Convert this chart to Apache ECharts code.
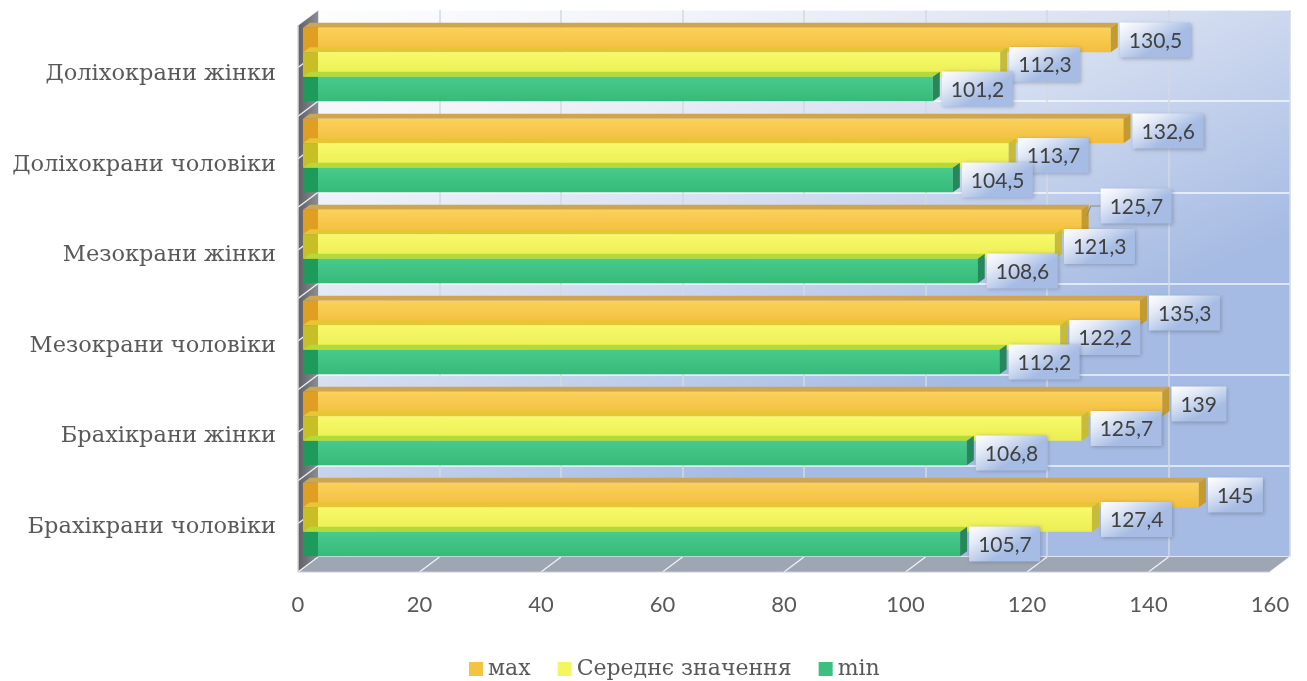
<!DOCTYPE html>
<html>
<head>
<meta charset="utf-8">
<script src="https://cdn.jsdelivr.net/npm/echarts@6/dist/echarts.min.js"></script>
<style>
  html, body { margin: 0; padding: 0; background: #ffffff; }
  #chart { width: 1307px; height: 681px; }
</style>
</head>
<body>
<div id="chart"></div>
<script>
// Craniometric groups, top to bottom
const categories = [
  'Доліхокрани жінки',
  'Доліхокрани чоловіки',
  'Мезокрани жінки',
  'Мезокрани чоловіки',
  'Брахікрани жінки',
  'Брахікрани чоловіки'
];
const seriesNames = ['мах', 'Середнє значення', 'min'];
const maxValues  = [130.5, 132.6, 125.7, 135.3, 139, 145];
const meanValues = [112.3, 113.7, 121.3, 122.2, 125.7, 127.4];
const minValues  = [101.2, 104.5, 108.6, 112.2, 106.8, 105.7];
const xTicks = [0, 20, 40, 60, 80, 100, 120, 140, 160];

// Styling of the pseudo-3D boxes (one entry per series)
const palette = [
  { front: ['#fbd15a', '#f2be3e'], top: '#cfa64e', side: '#c39b2e', cap: '#de9f22', legend: '#f5c342' },
  { front: ['#f7f96a', '#ebee52'], top: '#e6c634', side: '#c7bb3a', cap: '#c8bf26', legend: '#f3f65e' },
  { front: ['#48ca8c', '#36ba79'], top: '#b3da38', side: '#27875a', cap: '#1e9a5b', legend: '#3dbf80' }
];
const WALL_DEPTH = { dx: 20, dy: 15 };   // back wall -> front plane
const BAR_DEPTH = { dx: 7, dy: 5 };      // visible top / end faces of a bar
const CAP_WIDTH = 15;                    // bar ends sunk into the side wall
const LABEL_FONT = '21px Lato';
// value boxes moved off their bar, with a leader line: key "series-category"
const calloutOffsets = { '0-2': [10, -16] };

const fmt = v => String(v).replace('.', ',');
const measureCtx = document.createElement('canvas').getContext('2d');
measureCtx.font = LABEL_FONT;

function barRenderer(k) {
  const pal = palette[k];
  return function (params, api) {
    const v = api.value(0);
    const ci = api.value(1);
    const endPt = api.coord([v, ci]);
    const xEnd = endPt[0], yc = endPt[1];
    const x0 = api.coord([0, ci])[0];
    const band = api.size([0, 1])[1];
    const pitch = band * 0.269;
    const top = yc - 1.5 * pitch + k * pitch;
    const bot = top + pitch;
    const fx = BAR_DEPTH.dx, fy = BAR_DEPTH.dy;
    const mid = (top + bot) / 2;

    const children = [
      { type: 'rect', shape: { x: x0 - CAP_WIDTH, y: top, width: CAP_WIDTH, height: pitch },
        style: { fill: pal.cap } },
      { type: 'polygon', shape: { points: [[x0 - CAP_WIDTH, top], [xEnd, top], [xEnd + fx, top - fy], [x0 - CAP_WIDTH + fx, top - fy]] },
        style: { fill: pal.top } },
      { type: 'rect', shape: { x: x0, y: top, width: xEnd - x0, height: pitch },
        style: { fill: new echarts.graphic.LinearGradient(0, 0, 0, 1, [
          { offset: 0, color: pal.front[0] }, { offset: 1, color: pal.front[1] }]) } },
      { type: 'polygon', shape: { points: [[xEnd, top], [xEnd + fx, top - fy], [xEnd + fx, bot - fy], [xEnd, bot]] },
        style: { fill: pal.side } }
    ];

    // value box
    const text = fmt(v);
    const tw = measureCtx.measureText(text).width;
    const boxW = Math.round(tw + 18), boxH = 35;
    const off = calloutOffsets[k + '-' + ci] || [0, 0];
    const boxX = xEnd + fx + 2 + off[0];
    const boxY = mid - boxH / 2 + off[1];
    if (off[0] !== 0 || off[1] !== 0) {
      children.push({ type: 'polyline',
        shape: { points: [[xEnd + fx - 2, mid - 6], [boxX - 10, boxY + boxH / 2], [boxX, boxY + boxH / 2]] },
        style: { stroke: '#8c8c8c', lineWidth: 1.2, fill: null } });
    }
    children.push({ type: 'rect', shape: { x: boxX, y: boxY, width: boxW, height: boxH },
      style: { fill: new echarts.graphic.LinearGradient(0, 0, 0.3, 1, [
          { offset: 0, color: '#ffffff' }, { offset: 0.4, color: '#e4eaf6' }, { offset: 1, color: '#a6bce4' }]),
        shadowBlur: 4, shadowColor: 'rgba(60,70,90,0.35)', shadowOffsetX: 1, shadowOffsetY: 1 } });
    children.push({ type: 'text', x: boxX + 9, y: boxY + boxH / 2 + 1,
      style: { text: text, font: LABEL_FONT, fill: '#404040', verticalAlign: 'middle', align: 'left' } });

    return { type: 'group', children: children };
  };
}

function wallRenderer(params, api) {
  const cs = params.coordSys;
  const L = cs.x, T = cs.y, R = cs.x + cs.width, B = cs.y + cs.height;
  const dx = WALL_DEPTH.dx, dy = WALL_DEPTH.dy;
  const band = api.size([0, 1])[1];
  const children = [
    { type: 'polygon', shape: { points: [[L, T], [L, B], [L - dx, B + dy], [L - dx, T + dy]] },
      style: { fill: new echarts.graphic.LinearGradient(0, 0, 1, 0, [
        { offset: 0, color: '#5e6066' }, { offset: 1, color: '#8a8d94' }]) } },
    { type: 'polygon', shape: { points: [[L, B], [R, B], [R - dx, B + dy], [L - dx, B + dy]] },
      style: { fill: '#9ea6b3' } }
  ];
  xTicks.forEach(t => {
    const xt = api.coord([t, 0])[0];
    children.push({ type: 'line', shape: { x1: xt, y1: B, x2: xt - dx, y2: B + dy },
      style: { stroke: 'rgba(255,255,255,0.85)', lineWidth: 1.3 } });
  });
  categories.forEach((c, i) => {
    const yMid = api.coord([0, i])[1];
    [yMid - band / 2, yMid - 3].forEach(yb => {
      children.push({ type: 'line', shape: { x1: L, y1: yb, x2: L - dx, y2: yb + dy },
        style: { stroke: 'rgba(255,255,255,0.9)', lineWidth: 1.3 } });
    });
  });
  children.push({ type: 'line', shape: { x1: L - dx, y1: T + dy, x2: L - dx, y2: B + dy },
    style: { stroke: '#d8d8d8', lineWidth: 1.5 } });
  children.push({ type: 'line', shape: { x1: L - dx, y1: B + dy, x2: R - dx, y2: B + dy },
    style: { stroke: '#c9ced8', lineWidth: 1 } });
  return { type: 'group', children: children };
}

const valueSets = [maxValues, meanValues, minValues];
const chart = echarts.init(document.getElementById('chart'), null, { renderer: 'canvas' });

const option = {
  backgroundColor: '#ffffff',
  animation: false,
  grid: [
    { left: 318, top: 19, width: 972, height: 546 },                       // boxes
    { left: 298, top: 29, width: 972, height: 543 },                       // front-plane axis labels
    { left: 318, top: 10, width: 972, height: 547, show: true, borderWidth: 0,
      backgroundColor: new echarts.graphic.LinearGradient(0, 0, 0.25, 1, [
        { offset: 0, color: '#fcfdfe' }, { offset: 0.25, color: '#f2f4fa' },
        { offset: 0.55, color: '#d9e1f2' }, { offset: 1, color: '#a6bbe3' }]) }  // back wall
  ],
  xAxis: [
    { gridIndex: 0, type: 'value', min: 0, max: 160, interval: 20, show: false },
    { gridIndex: 1, type: 'value', min: 0, max: 160, interval: 20,
      axisLine: { show: false }, axisTick: { show: false }, splitLine: { show: false },
      axisLabel: { color: '#595959', fontFamily: 'Lato', fontSize: 22, margin: 22 } },
    { gridIndex: 2, type: 'value', min: 0, max: 160, interval: 20,
      axisLine: { show: false }, axisTick: { show: false }, axisLabel: { show: false },
      splitLine: { show: true, lineStyle: { color: '#d3d8e2', width: 1.5 } } }
  ],
  yAxis: [
    { gridIndex: 0, type: 'category', data: categories, inverse: true, show: false },
    { gridIndex: 1, type: 'category', data: categories, inverse: true,
      axisLine: { show: false }, axisTick: { show: false }, splitLine: { show: false },
      axisLabel: { color: '#595959', fontFamily: 'DejaVu Serif', fontSize: 22.5, margin: 22 } },
    { gridIndex: 2, type: 'category', data: categories, inverse: true,
      axisLine: { show: false }, axisTick: { show: false }, axisLabel: { show: false },
      splitLine: { show: true, lineStyle: { color: 'rgba(255,255,255,0.85)', width: 1.5 } } }
  ],
  legend: {
    data: seriesNames,
    left: 464, top: 653,
    icon: 'rect', itemWidth: 14, itemHeight: 14, itemGap: 27,
    textStyle: { fontFamily: 'DejaVu Serif', fontSize: 22, color: '#595959' }
  },
  series: [
    { type: 'custom', name: 'wall', xAxisIndex: 2, yAxisIndex: 2, z: 1, silent: true,
      data: [[0, 0]], renderItem: wallRenderer }
  ].concat(seriesNames.map((name, k) => ({
    type: 'custom', name: name, xAxisIndex: 0, yAxisIndex: 0, z: 3 + k,
    itemStyle: { color: palette[k].legend },
    encode: { x: 0, y: 1 },
    data: valueSets[k].map((v, i) => [v, i]),
    renderItem: barRenderer(k)
  })))
};
chart.setOption(option);
</script>
</body>
</html>
